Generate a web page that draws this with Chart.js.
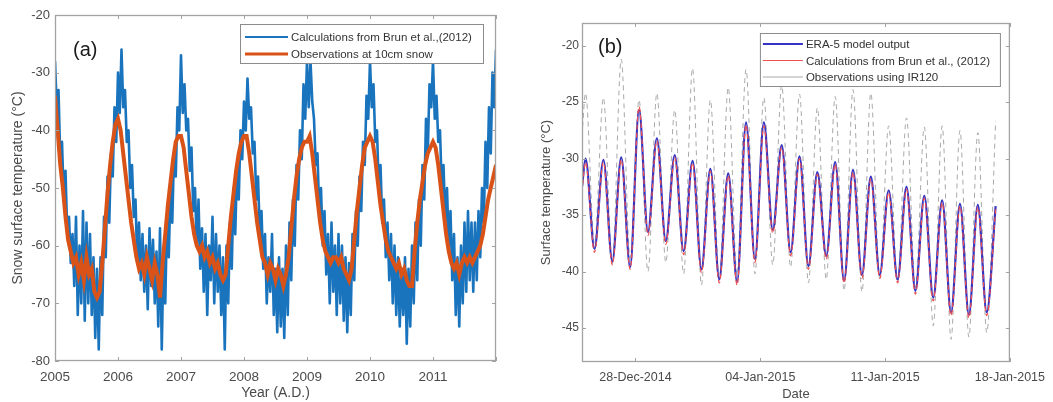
<!DOCTYPE html>
<html>
<head>
<meta charset="utf-8">
<script src="https://cdn.jsdelivr.net/npm/chart.js@4.4.0/dist/chart.umd.min.js"></script>
<style>
  body { margin: 0; background: #fff; width: 1053px; height: 402px; overflow: hidden; position: relative; }
  #snowChart { position: absolute; left: 0; top: 0; }
  #surfChart { position: absolute; left: 530px; top: 0; }
</style>
</head>
<body>
<canvas id="snowChart" width="520" height="402"></canvas>
<canvas id="surfChart" width="523" height="402"></canvas>
<script>
// ---- panel (a): snow surface temperature, 2005-2012 ----
var yearStart = 2005;
var brunPerYear = 36;   // samples per year
var obsPerYear = 24;    // samples per year
var yearTicks = [2005, 2006, 2007, 2008, 2009, 2010, 2011, 2012];

var brunCalc = [
  // 2005
  -28, -36, -33, -45, -42, -52, -47, -58, -55, -63, -58, -67, -55, -72, -60, -70, -54, -73,
  -56, -70, -58, -72, -62, -76, -64, -78, -62, -72, -55, -62, -48, -56, -44, -48, -36, -42,
  // 2006
  -30, -37, -26, -36, -33, -42, -40, -50, -46, -55, -52, -63, -56, -66, -58, -68, -60, -71,
  -57, -67, -59, -70, -61, -74, -57, -78, -62, -70, -55, -62, -50, -56, -44, -48, -36, -40,
  // 2007
  -27, -37, -32, -40, -38, -47, -43, -54, -50, -60, -52, -64, -57, -68, -58, -72, -60, -66,
  -55, -70, -58, -68, -60, -72, -62, -78, -60, -70, -56, -64, -50, -58, -46, -52, -40, -45,
  // 2008
  -35, -40, -31, -38, -36, -44, -42, -52, -48, -58, -54, -64, -58, -70, -62, -68, -58, -72,
  -64, -75, -62, -74, -64, -76, -60, -72, -56, -66, -52, -60, -46, -52, -40, -45, -32, -38,
  // 2009
  -28, -36, -28, -35, -38, -46, -44, -55, -50, -60, -54, -65, -58, -70, -56, -68, -60, -72,
  -58, -70, -60, -73, -62, -75, -63, -72, -58, -66, -54, -60, -48, -54, -42, -46, -34, -38,
  // 2010
  -28, -36, -32, -42, -40, -50, -46, -56, -52, -62, -56, -66, -58, -70, -60, -72, -62, -74,
  -64, -72, -62, -77, -64, -74, -60, -70, -56, -66, -52, -60, -46, -52, -38, -44, -32, -36,
  // 2011
  -28, -38, -34, -42, -40, -50, -46, -56, -50, -60, -54, -66, -58, -72, -62, -74, -60, -70,
  -56, -68, -54, -66, -56, -68, -56, -66, -54, -62, -50, -56, -42, -50, -36, -44, -30, -36,
  // 2012.0
  -26
];

var obs10cm = [
  // 2005
  -34, -40, -46, -50, -55, -59, -61, -63, -62, -65, -63, -66,
  -62, -65, -64, -68, -69, -68, -63, -57, -51, -46, -42, -39,
  // 2006
  -38, -40, -44, -48, -52, -56, -59, -62, -64, -63, -65, -62,
  -64, -66, -63, -65, -69, -63, -58, -53, -49, -45, -42, -41,
  // 2007
  -41, -43, -47, -51, -55, -58, -60, -61, -60, -62, -61, -63,
  -62, -64, -63, -65, -66, -65, -60, -55, -51, -47, -44, -42,
  // 2008
  -41, -41, -44, -48, -52, -56, -59, -62, -63, -65, -63, -64,
  -66, -64, -65, -67, -65, -62, -57, -52, -48, -45, -43, -42,
  // 2009
  -42, -41, -44, -48, -52, -56, -59, -61, -62, -63, -62, -62,
  -63, -62, -64, -65, -66, -64, -59, -54, -50, -46, -43, -42,
  // 2010
  -41, -42, -45, -49, -53, -56, -59, -61, -62, -63, -64, -63,
  -65, -64, -66, -67, -67, -61, -56, -52, -49, -46, -44, -43,
  // 2011
  -42, -43, -46, -50, -54, -58, -61, -63, -64, -63, -65, -63,
  -62, -63, -62, -63, -62, -61, -60, -58, -55, -52, -50, -48,
  // 2012.0
  -46
];

// ---- panel (b): surface temperature, 25-Dec-2014 .. 18-Jan-2015 ----
// values: start, then daily max / min pairs, then last value
var dateTicks = [3, 10, 17, 24];
var dateLabels = ['28-Dec-2014', '04-Jan-2015', '11-Jan-2015', '18-Jan-2015'];
var surfTicks = [-45, -40, -35, -30, -25, -20];

var era5 = [-32.5,
  -30.0, -38.0, -30.1, -39.1, -29.9, -39.6, -25.7, -36.5, -28.2, -37.3, -29.7, -38.2,
  -30.2, -39.8, -30.9, -40.7, -31.3, -40.9, -26.8, -38.9, -26.8, -36.3, -28.8, -38.3,
  -29.8, -39.5, -31.2, -38.6, -30.3, -40.8, -31.0, -40.3, -31.6, -40.3, -32.8, -40.7,
  -32.5, -41.7, -33.3, -42.3, -33.7, -43.6, -34.0, -43.8, -34.1, -43.6,
  -34.2];

var brunSurf = [-33.0,
  -30.3, -38.3, -30.3, -39.4, -30.1, -39.8, -25.4, -36.8, -28.4, -37.6, -29.9, -38.5,
  -30.4, -40.1, -31.1, -41.0, -31.5, -41.2, -27.0, -39.2, -27.1, -36.6, -29.0, -38.6,
  -30.0, -39.8, -31.4, -38.9, -30.5, -41.0, -31.2, -40.6, -31.8, -40.6, -33.0, -41.0,
  -32.7, -42.0, -33.5, -42.6, -33.9, -43.9, -34.2, -44.1, -34.3, -43.9,
  -34.4];

var ir120 = [-28.0,
  -24.2, -37.5, -24.6, -39.3, -21.2, -38.8, -24.8, -40.0, -24.2, -39.2, -25.7, -40.2,
  -22.0, -41.2, -24.8, -40.6, -23.7, -40.3, -22.1, -40.2, -24.6, -39.4, -23.5, -39.6,
  -24.3, -41.0, -25.5, -40.7, -24.5, -41.7, -23.9, -41.8, -24.2, -40.6, -27.1, -41.0,
  -26.4, -41.4, -27.2, -44.8, -27.1, -46.0, -27.5, -45.8, -27.7, -45.4,
  -26.7];

// day offsets of the samples: 0, then max at ~05h, min at ~17h each day
function surfDays(n) {
  var d = [0];
  for (var i = 1; i < n; i++) d.push(0.2 + (i - 1) * 0.5);
  return d;
}

var FONT = '"Liberation Sans", Arial, sans-serif';
var TXT = '#4a4a4a';

// box, inward ticks, panel letter and boxed legend like the MATLAB figure
var frame = {
  id: 'frame',
  afterDatasetsDraw: function (chart, args, o) {
    var ctx = chart.ctx, a = chart.chartArea, sx = chart.scales.x, sy = chart.scales.y;
    ctx.save();
    ctx.strokeStyle = '#a3a3a3';
    ctx.lineWidth = 1;
    ctx.beginPath();
    sx.ticks.forEach(function (t) {
      var p = Math.round(sx.getPixelForValue(t.value)) + 0.5;
      ctx.moveTo(p, a.bottom); ctx.lineTo(p, a.bottom - 4);
      ctx.moveTo(p, a.top); ctx.lineTo(p, a.top + 4);
    });
    sy.ticks.forEach(function (t) {
      var p = Math.round(sy.getPixelForValue(t.value)) + 0.5;
      ctx.moveTo(a.left, p); ctx.lineTo(a.left + 4, p);
      ctx.moveTo(a.right, p); ctx.lineTo(a.right - 4, p);
    });
    ctx.stroke();
    ctx.lineWidth = 1.3;
    ctx.strokeRect(a.left + 0.5, a.top + 0.5, a.right - a.left - 1, a.bottom - a.top - 1);

    ctx.fillStyle = '#1a1a1a';
    ctx.font = '20px ' + FONT;
    ctx.textBaseline = 'middle';
    ctx.textAlign = 'left';
    ctx.fillText(o.label, a.left + o.labelDx, a.top + o.labelDy);

    var lg = o.legend;
    var bx = a.right - lg.right - lg.width, by = a.top + lg.top;
    ctx.fillStyle = '#fff';
    ctx.fillRect(bx, by, lg.width, lg.height);
    ctx.strokeStyle = '#8c8c8c';
    ctx.lineWidth = 1;
    ctx.strokeRect(bx + 0.5, by + 0.5, lg.width, lg.height);
    ctx.font = lg.font;
    chart.data.datasets.forEach(function (ds, i) {
      var yy = by + lg.first + i * lg.rowH;
      ctx.strokeStyle = ds.borderColor;
      ctx.lineWidth = ds.keyWidth;
      ctx.beginPath();
      ctx.moveTo(bx + lg.pad, yy);
      ctx.lineTo(bx + lg.pad + lg.lineLen, yy);
      ctx.stroke();
      ctx.fillStyle = '#333';
      ctx.fillText(ds.label, bx + lg.pad + lg.lineLen + 3, yy + 1);
    });
    ctx.restore();
  }
};

new Chart(document.getElementById('snowChart'), {
  type: 'line',
  data: {
    datasets: [{
      label: 'Calculations from Brun et al.,(2012)',
      data: brunCalc.map(function (v, i) { return { x: yearStart + i / brunPerYear, y: v }; }),
      borderColor: '#1a74bd',
      borderWidth: 2.6,
      borderJoinStyle: 'round',
      keyWidth: 2,
      pointRadius: 0,
      tension: 0,
      order: 1
    }, {
      label: 'Observations at 10cm snow',
      data: obs10cm.map(function (v, i) { return { x: yearStart + i / obsPerYear, y: v }; }),
      borderColor: '#d95319',
      borderWidth: 4,
      keyWidth: 3,
      pointRadius: 0,
      tension: 0,
      order: 0
    }]
  },
  options: {
    responsive: false,
    animation: false,
    devicePixelRatio: 1,
    layout: { padding: { left: 0, top: 15, right: 24, bottom: 0 } },
    plugins: {
      legend: { display: false },
      tooltip: { enabled: false },
      frame: {
        label: '(a)', labelDx: 18, labelDy: 35,
        legend: { right: 13, top: 9, width: 243, height: 39, first: 13, rowH: 17, pad: 5, lineLen: 43,
                  font: '11.5px ' + FONT }
      }
    },
    scales: {
      x: {
        type: 'linear', min: 2005, max: 2012,
        grid: { display: false, drawTicks: false }, border: { display: false },
        afterBuildTicks: function (s) { s.ticks = yearTicks.map(function (v) { return { value: v }; }); },
        ticks: { padding: 8, maxRotation: 0, color: TXT, font: { family: FONT, size: 13.5 },
                 callback: function (v) { return v === 2012 ? '' : String(v); } },
        title: { display: true, text: 'Year (A.D.)', color: TXT, font: { family: FONT, size: 14 },
                 padding: { top: 0, bottom: 0 } },
        afterFit: function (s) { s.height = 41; }
      },
      y: {
        min: -80, max: -20,
        grid: { display: false, drawTicks: false }, border: { display: false },
        ticks: { stepSize: 10, padding: 5, color: TXT, font: { family: FONT, size: 13 } },
        title: { display: true, text: 'Snow surface temperature (°C)', color: TXT,
                 font: { family: FONT, size: 14 }, padding: { top: 10, bottom: 0 } },
        afterFit: function (s) { s.width = 55; }
      }
    }
  },
  plugins: [frame]
});

var days = surfDays(era5.length);
function pts(vals) { return vals.map(function (v, i) { return { x: days[i], y: v }; }); }

new Chart(document.getElementById('surfChart'), {
  type: 'line',
  data: {
    datasets: [{
      label: 'ERA-5 model output',
      data: pts(era5),
      borderColor: '#3434c4',
      borderWidth: 2.2,
      keyWidth: 2,
      order: 1
    }, {
      label: 'Calculations from Brun et al., (2012)',
      data: pts(brunSurf),
      borderColor: '#f05050',
      borderWidth: 1.2,
      borderDash: [5, 3],
      keyWidth: 1,
      order: 0
    }, {
      label: 'Observations using IR120',
      data: pts(ir120),
      borderColor: '#a8a8a8',
      borderWidth: 1,
      borderDash: [5, 4],
      keyWidth: 1,
      order: 2
    }]
  },
  options: {
    responsive: false,
    animation: false,
    devicePixelRatio: 1,
    elements: { point: { radius: 0 }, line: { cubicInterpolationMode: 'monotone' } },
    layout: { padding: { left: 0, top: 23, right: 43, bottom: 0 } },
    plugins: {
      legend: { display: false },
      tooltip: { enabled: false },
      frame: {
        label: '(b)', labelDx: 16, labelDy: 24,
        legend: { right: 10, top: 10, width: 240, height: 53, first: 11, rowH: 16.5, pad: 3, lineLen: 40,
                  font: '11.5px ' + FONT }
      }
    },
    scales: {
      x: {
        type: 'linear', min: 0, max: 24,
        grid: { display: false, drawTicks: false }, border: { display: false },
        afterBuildTicks: function (s) { s.ticks = dateTicks.map(function (v) { return { value: v }; }); },
        ticks: { padding: 8, maxRotation: 0, autoSkip: false, color: TXT, font: { family: FONT, size: 12.5 },
                 callback: function (v) { return dateLabels[dateTicks.indexOf(v)]; } },
        title: { display: true, text: 'Date', color: TXT, font: { family: FONT, size: 13 },
                 padding: { top: 0, bottom: 0 } },
        afterFit: function (s) { s.height = 40; }
      },
      y: {
        min: -48, max: -18,
        grid: { display: false, drawTicks: false }, border: { display: false },
        afterBuildTicks: function (s) { s.ticks = surfTicks.map(function (v) { return { value: v }; }); },
        ticks: { padding: 3, color: TXT, font: { family: FONT, size: 12 } },
        title: { display: true, text: 'Surface temperature (°C)', color: TXT,
                 font: { family: FONT, size: 13 }, padding: { top: 9, bottom: 0 } },
        afterFit: function (s) { s.width = 52; }
      }
    }
  },
  plugins: [frame]
});
</script>
</body>
</html>
